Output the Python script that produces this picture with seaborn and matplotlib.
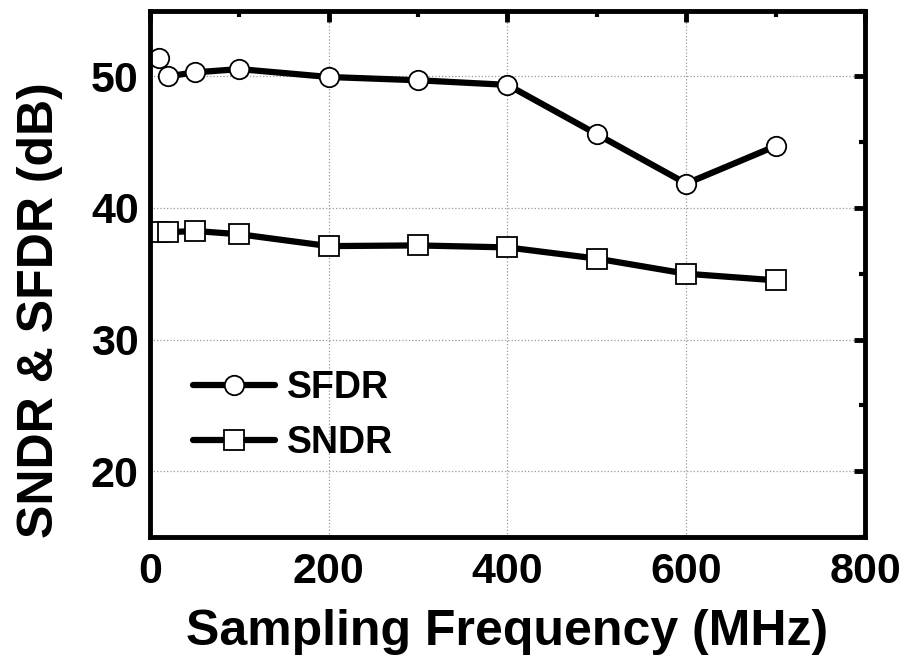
import pandas as pd
import numpy as np
import matplotlib
matplotlib.use("Agg")
import matplotlib.pyplot as plt
import seaborn as sns
from matplotlib.ticker import MultipleLocator

# values
freq_mhz = [10, 20, 50, 100, 200, 300, 400, 500, 600, 700]
sfdr_db = [51.4, 50.0, 50.3, 50.55, 49.95, 49.7, 49.35, 45.6, 41.85, 44.7]
sndr_db = [38.2, 38.15, 38.25, 38.0, 37.1, 37.15, 37.0, 36.15, 35.0, 34.5]
series_names = ["SFDR", "SNDR"]
x_ticks = [0, 200, 400, 600, 800]
y_ticks = [20, 30, 40, 50]

sns.set_style("white")
plt.rcParams['font.family'] = ['Liberation Sans', 'DejaVu Sans']
plt.rcParams['font.weight'] = 'bold'
for key in ['text.color', 'axes.labelcolor', 'xtick.color', 'ytick.color']:
    plt.rcParams[key] = 'black'

df = pd.concat([
    pd.DataFrame({"freq": freq_mhz, "db": sfdr_db, "series": "SFDR"}),
    pd.DataFrame({"freq": freq_mhz, "db": sndr_db, "series": "SNDR"}),
])

fig = plt.figure(figsize=(9.09, 6.58), dpi=100)
ax = fig.add_axes([0.165, 0.184, 0.7866, 0.8])

sns.lineplot(data=df, x="freq", y="db", hue="series", style="series",
             hue_order=series_names, style_order=series_names,
             palette={"SFDR": "black", "SNDR": "black"},
             markers={"SFDR": "o", "SNDR": "s"}, dashes=False,
             linewidth=4.5, markersize=14, markerfacecolor="white",
             markeredgecolor="black", markeredgewidth=1.3,
             legend=False, ax=ax)

ax.set_xlim(0, 800)
ax.set_ylim(15, 55)
ax.set_xticks(x_ticks)
ax.set_yticks(y_ticks)
ax.xaxis.set_minor_locator(MultipleLocator(100))
ax.yaxis.set_minor_locator(MultipleLocator(5))

ax.grid(True, which='major', linestyle=':', color='#999999', linewidth=0.9)
ax.set_axisbelow(True)

for sp in ax.spines.values():
    sp.set_linewidth(3.5)
    sp.set_color("black")

ax.tick_params(which='major', direction='in', length=8, width=3.5,
               top=True, right=True, labelsize=31)
ax.tick_params(which='minor', direction='in', length=4, width=3,
               top=True, right=True)
ax.tick_params(axis='x', pad=11)
ax.tick_params(axis='y', pad=8)
for lab in ax.get_xticklabels() + ax.get_yticklabels():
    lab.set_fontweight('bold')

ax.set_xlabel("Sampling Frequency (MHz)", fontsize=36, fontweight='bold', labelpad=12)
ax.set_ylabel("SNDR & SFDR (dB)", fontsize=36, fontweight='bold')
ax.yaxis.set_label_coords(-0.122, 0.43)

handles = ax.get_lines()[:2]
leg = ax.legend(handles, series_names, loc='center left',
                bbox_to_anchor=(0.06, 0.23), frameon=False,
                fontsize=27, handlelength=2.2, handletextpad=0.3,
                borderpad=0, borderaxespad=0, labelspacing=0.5)
for t in leg.get_texts():
    t.set_fontweight('bold')

fig.savefig("out.png", dpi=100)
